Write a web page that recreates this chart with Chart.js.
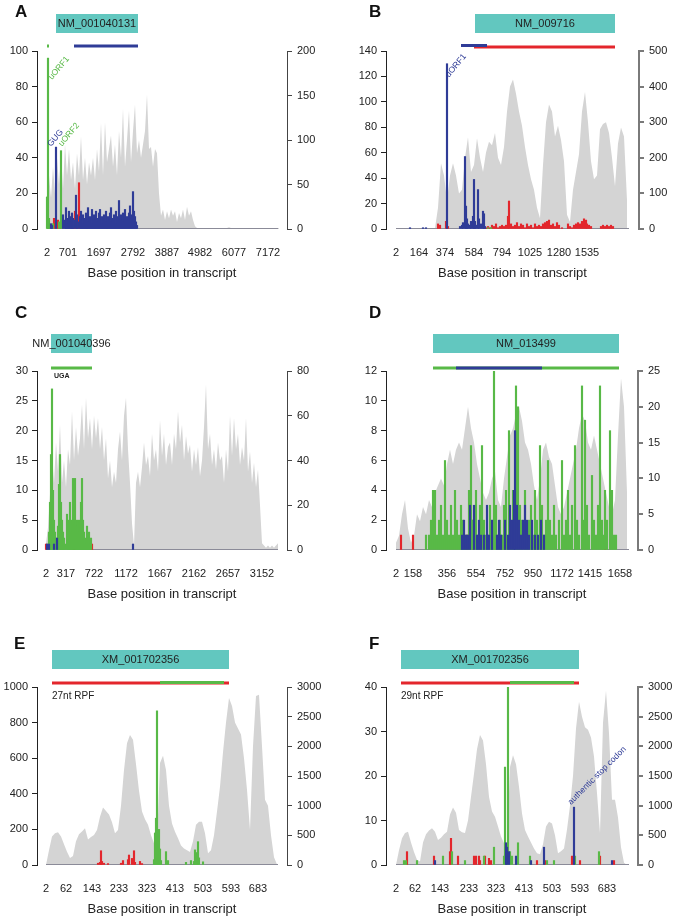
<!DOCTYPE html>
<html>
<head>
<meta charset="utf-8">
<script src="https://cdn.jsdelivr.net/npm/chart.js@4.4.0/dist/chart.umd.min.js"></script>
<style>
  body { margin: 0; background: #fff; width: 675px; height: 918px; position: relative; overflow: hidden; }
  .p { position: absolute; height: 318px; }
</style>
</head>
<body>
<div class="p" style="left:0;top:0;width:337px"><canvas id="cA"></canvas></div>
<div class="p" style="left:337px;top:0;width:338px"><canvas id="cB"></canvas></div>
<div class="p" style="left:0;top:300px;width:337px"><canvas id="cC"></canvas></div>
<div class="p" style="left:337px;top:300px;width:338px"><canvas id="cD"></canvas></div>
<div class="p" style="left:0;top:600px;width:337px"><canvas id="cE"></canvas></div>
<div class="p" style="left:337px;top:600px;width:338px"><canvas id="cF"></canvas></div>
<script>
// x is the bar index along each transcript; tick arrays map index -> base position label

// ---- A ----
const tickAtA = [0, 21, 52, 86, 120, 153, 187, 221];
const tickLabA = ['2', '701', '1697', '2792', '3887', '4982', '6077', '7172'];
const covA = [10,60,35,70,40,80,50,85,45,95, 60,90,55,75,45,85,60,104,55,80,
  50,75,60,80,55,90,65,119,60,120, 75,90,105,70,95,60,110,80,135,70,
  100,133,75,110,140,85,100,80,95,110, 151,90,92,70,90,85,40,15,22,10,
  20,12,22,15,20,8,18,12,22,10, 25,15,20,10,3,1,
  1,1,1,0,1,1,1,1,0,1, 1,1,1,1,1,2,1,1,1,1, 1,1,0,1,1,1,1,1,1,1, 1,1,1,1,1,1,1,1,1,1, 1];
const greenA = [[0,18],[1,96],[2,6],[6,3],[12,4],[14,44]];
const redA = [[7,6],[11,5],[13,3],[25,8],[26,4],[28,10],[32,26],[40,3],[60,2]];
const blueA = [[4,3],[5,2],[9,46],[16,8],[18,5],[19,12],[20,6],[21,3],[22,10],[23,7],[24,4],[25,9],[26,6],[27,5],[29,19],[30,8],[31,4],
  [33,7],[34,10],[35,5],[36,8],[37,3],[38,6],[39,9],[40,5],[41,12],[42,4],[43,7],[44,6],[45,11],[46,3],[47,8],[48,5],[49,10],
  [50,6],[51,4],[52,9],[53,11],[54,5],[55,7],[56,3],[57,8],[58,6],[59,10],[60,4],[61,7],[62,5],[63,9],[64,12],[65,4],[66,6],
  [67,8],[68,5],[69,10],[70,3],[71,7],[72,16],[73,6],[74,8],[75,5],[76,9],[77,4],[78,11],[79,6],[80,7],[81,5],[82,9],[83,13],
  [84,8],[85,6],[86,21],[87,10],[88,7],[89,4],[90,2]];

// ---- B ----
const tickAtB = [0, 23, 49, 78, 106, 134, 163, 191];
const tickLabB = ['2', '164', '374', '584', '794', '1025', '1280', '1535'];
const covB = [0,0,0,1,0,1,0,1,2,1,0,0,1,3,
  60,185,150,80,150,185,150,100,110,200,258,160,180,255,200,160,215,245,235,270,
  200,180,230,330,400,420,380,330,290,230,180,140,110,60,30,180,300,350,330,260,
  290,250,190,40,20,110,160,210,330,385,300,190,140,150,280,295,300,270,200,120,
  240,285,260,80];
const blueB = [[14,1],[27,1],[30,1],[51,130],[64,2],[66,3],[67,5],[69,57],[70,18],[71,8],[72,4],[74,3],[75,6],[77,10],
  [78,39],[79,6],[80,3],[82,31],[83,8],[85,4],[87,14],[88,12],[89,2]];
const redB = [[42,4],[44,3],[50,6],[52,2],[90,1],[92,2],[94,1],[96,3],[98,2],[100,4],[102,1],[104,2],[106,3],[108,2],[110,3],
  [112,10],[113,22],[115,4],[117,2],[119,3],[121,5],[123,2],[125,4],[127,3],[129,1],[131,4],[133,2],[135,3],[137,1],[139,4],
  [141,2],[143,3],[145,2],[147,4],[149,5],[151,6],[153,7],[155,3],[157,4],[159,2],[161,5],[163,3],[166,1],[172,4],[174,2],
  [176,1],[178,3],[180,4],[182,5],[184,4],[186,6],[188,8],[190,7],[191,4],[193,3],[195,2],[205,2],[207,3],[209,2],[211,3],
  [213,2],[215,3],[217,2]];
const greenB = [[92,1],[95,1]];

// ---- C ----
const tickAtC = [0, 20, 48, 80, 114, 148, 182, 216];
const tickLabC = ['2', '317', '722', '1172', '1667', '2162', '2657', '3152'];
const covC = [3,10,25,43,30,48,35,56,30,40, 28,45,38,62,40,55,42,50,65,45,
  68,50,59,45,60,50,59,45,55,40, 50,32,40,28,35,30,45,53,40,60,
  68,45,30,12,2,30,35,28,37,48, 38,42,33,52,40,45,35,58,42,52,
  38,46,48,38,52,45,62,48,56,40, 51,43,47,35,45,38,46,33,40,55,
  74,45,52,38,45,36,48,40,42,30, 45,35,60,42,59,45,52,38,46,40,
  59,35,44,30,39,28,36,20,3,2, 1,2,1,2,1,2,3];
const greenC = [[2,1],[3,3],[4,8],[5,16],[6,27],[7,10],[8,5],[9,3],[10,2],[12,4],[13,11],[14,16],[15,8],[16,5],[17,3],[18,2],
  [19,1],[21,6],[22,3],[23,5],[24,8],[25,5],[26,3],[27,12],[28,5],[29,12],[30,5],[31,4],[32,5],[33,3],[34,5],[35,8],[36,12],
  [37,5],[38,3],[39,2],[40,1],[41,4],[42,2],[43,3],[44,1],[45,2]];
const blueC = [[1,1],[3,1],[8,1],[11,2],[87,1]];
const redC = [[0,1],[28,1],[46,1]];

// ---- D ----
const tickAtD = [0, 17, 51, 80, 109, 137, 166, 194, 224];
const tickLabD = ['2', '158', '356', '554', '752', '950', '1172', '1415', '1658'];
const covD = [1,2,5,7,3,1,2,5,4,6, 5,7,6,8,9,10,9,12,14,12, 14,15,14,17,20,17,15,12,10,8,
  7,8,10,11,7,6,10,13,16,17, 19,20,18,15,14,12,9,7,10,14, 15,13,12,9,6,5,6,8,10,12,
  14,17,19,18,15,14,16,14,12,10, 8,6,5,7,16,24,20,8];
const greenD = [[30,1],[33,1],[35,2],[37,4],[39,4],[41,1],[43,2],[45,3],[47,1],[49,6],[51,2],[53,1],[55,3],[57,1],[59,4],
  [61,2],[63,1],[65,3],[67,2],[69,1],[71,1],[73,4],[75,7],[77,2],[80,4],[82,1],[84,3],[86,7],[88,2],[90,1],[92,1],[94,3],
  [96,2],[98,12],[100,3],[102,1],[104,2],[106,1],[108,3],[110,4],[113,8],[115,2],[117,4],[120,11],[122,9.6],[124,3],[126,2],
  [129,4],[131,1],[133,2],[135,3],[137,1],[139,4],[141,2],[144,7],[146,3],[148,1],[150,2],[152,6],[154,2],[156,1],[158,3],
  [160,1],[163,2],[166,6],[168,1],[170,2],[172,4],[174,1],[176,3],[179,7],[181,2],[183,1],[186,11],[188,2],[189,8.7],[191,3],
  [193,1],[196,5],[198,2],[200,1],[202,3],[204,11],[206,2],[207,1],[209,4],[211,2],[214,8],[216,4],[218,1],[220,1]];
const blueD = [[66,1],[68,2],[70,1],[72,1],[74,3],[78,3],[81,1],[83,2],[85,1],[88,1],[91,3],[93,1],[96,2],[101,1],[103,2],
  [105,1],[109,2],[112,1],[114,3],[116,2],[118,4],[119,8],[121,3],[123,2],[125,1],[127,2],[129,3],[131,2],[133,1],[136,2],
  [139,1],[142,1],[145,2],[148,1]];
const redD = [[5,1],[17,1],[71,1],[77,2],[209,1]];

// ---- E / F (same transcript, two footprint lengths) ----
const tickLabEF = ['2', '62', '143', '233', '323', '413', '503', '593', '683'];
const tickAtE = [0, 20, 46, 73, 101, 129, 157, 185, 212];
const tickAtF = [0, 19, 44, 73, 100, 128, 156, 184, 211];
const covE = [0,250,480,535,550,480,350,225,120,150, 400,520,563,620,430,470,507,590,815,970,
  910,850,720,535,590,1000,1600,2050,2190,2110, 1700,1250,900,770,680,500,365,400,1720,1840,
  1600,1000,700,560,450,330,280,250,220,400, 680,730,730,535,200,250,500,900,1320,1900,
  2400,2815,2680,2400,2300,2200,1800,1270,590,2000, 2850,2870,2000,1100,1000,500,130,10];
const greenE = [[108,30],[109,180],[110,263],[111,866],[112,160],[113,200],[114,90],[115,25],[120,75],[122,25],
  [140,15],[145,25],[148,20],[149,85],[150,50],[151,70],[152,131],[153,40],[157,18]];
const redE = [[52,10],[54,15],[55,80],[56,20],[58,10],[62,8],[75,10],[77,25],[82,30],[83,56],[86,37],[88,80],[89,15],[94,20],[96,8]];
const covF = [0,250,450,540,560,380,220,90,60,380, 520,580,620,560,420,460,520,560,850,970,
  880,590,550,540,750,1150,1540,1950,2190,2100, 1700,1150,900,815,650,480,365,320,1650,1850,
  1700,1320,870,590,480,380,280,200,180,350, 650,730,700,500,200,230,280,600,1000,1500,
  2300,2750,2500,2320,2280,2150,1830,1210,535,2400, 2935,2220,1100,1100,800,300,40,0];
const greenF = [[8,1],[10,1],[21,1],[47,2],[56,3],[69,1],[88,2],[98,4],[108,2],[109,22],[112,40],[114,3],[116,2],[122,5],
  [134,2],[151,1],[158,1],[179,2],[203,3]];
const blueF = [[39,1],[110,5],[111,4],[113,3],[120,2],[135,1],[148,4],[178,13],[216,1]];
const redF = [[11,3],[38,2],[54,3],[55,6],[62,2],[78,2],[80,2],[83,2],[84,1],[89,2],[93,1.5],[95,1],[141,1],[149,1],[176,2],
  [184,1],[204,2],[218,1]];

const GRAY = '#d4d4d4', RED = '#e3262c', GREEN = '#58b947', BLUE = '#2f3c97', CYAN = '#62c7bf';
const FONT = "'Liberation Sans', Arial, sans-serif";
Chart.defaults.font.family = FONT;
Chart.defaults.color = '#222';

const pairs = list => list.map(p => ({ x: p[0], y: p[1] }));
const stepped = (vals, step) => vals.map((v, i) => ({ x: i * step, y: v }));

// letters, transcript boxes, ORF tracks and the small text notes
const decor = {
  id: 'decor',
  afterDraw(chart, args, o) {
    const { ctx, chartArea: a, scales: { x, y } } = chart;
    const px = v => x.getPixelForValue(v);
    ctx.save();
    ctx.font = 'bold 17px ' + FONT;
    ctx.fillStyle = '#111';
    ctx.textBaseline = 'middle';
    ctx.fillText(o.letter, o.letterAt[0], o.letterAt[1]);

    const b0 = px(o.box[0]), b1 = px(o.box[1]);
    ctx.fillStyle = CYAN;
    ctx.fillRect(b0, a.top - 37, b1 - b0, 19);
    ctx.fillStyle = '#222';
    ctx.font = '11px ' + FONT;
    ctx.textAlign = 'center';
    ctx.fillText(o.name, (b0 + b1) / 2, a.top - 27);

    o.tracks.forEach(t => {
      ctx.strokeStyle = t.c;
      ctx.lineWidth = 3;
      ctx.beginPath();
      ctx.moveTo(px(t.r[0]), a.top - t.dy);
      ctx.lineTo(px(t.r[1]), a.top - t.dy);
      ctx.stroke();
    });

    ctx.textAlign = 'left';
    (o.notes || []).forEach(n => {
      ctx.font = n.font + ' ' + FONT;
      ctx.fillStyle = '#222';
      ctx.fillText(n.text, px(n.at), a.top + n.dy);
    });

    ctx.textBaseline = 'alphabetic';
    (o.labels || []).forEach(l => {
      ctx.save();
      ctx.translate(px(l.at[0]) + l.dx, y.getPixelForValue(l.at[1]) + l.dy);
      ctx.rotate(-l.rot * Math.PI / 180);
      ctx.font = '8.5px ' + FONT;
      ctx.fillStyle = l.c;
      ctx.fillText(l.text, 0, 0);
      ctx.restore();
    });
    ctx.restore();
  }
};

const panels = [
  { id: 'cA', cov: covA, step: 2, red: redA, green: greenA, blue: blueA, n: 231, xMin: -10, xMax: 240,
    tickAt: tickAtA, tickLab: tickLabA, yMax: 100, yStep: 20, y2Max: 200, y2Step: 50,
    top: 51, plotH: 178, left: 37, right: 50, rc: '#444', rw: 1,
    deco: { letter: 'A', letterAt: [15, 12], name: 'NM_001040131', box: [9, 91],
      tracks: [{ r: [0, 2], c: GREEN, dy: 5 }, { r: [27, 91], c: BLUE, dy: 5 }],
      labels: [{ text: 'uORF1', at: [1, 96], dx: 4, dy: 22, rot: 50, c: GREEN },
               { text: 'GUG', at: [9, 46], dx: -5, dy: 0, rot: 50, c: BLUE },
               { text: 'uORF2', at: [14, 44], dx: 1, dy: -4, rot: 50, c: GREEN }] } },
  { id: 'cB', cov: covB, step: 3, red: redB, green: greenB, blue: blueB, n: 233, xMin: -10, xMax: 243,
    tickAt: tickAtB, tickLab: tickLabB, yMax: 140, yStep: 20, y2Max: 500, y2Step: 100,
    top: 51, plotH: 178, left: 49, right: 36, rc: '#7a7a7a', rw: 2,
    deco: { letter: 'B', letterAt: [32, 12], name: 'NM_009716', box: [79, 219],
      tracks: [{ r: [78, 219], c: RED, dy: 4 }, { r: [65, 91], c: BLUE, dy: 5.5 }],
      labels: [{ text: 'uORF1', at: [51, 130], dx: 2, dy: 14, rot: 50, c: BLUE }] } },
  { id: 'cC', cov: covC, step: 2, red: redC, green: greenC, blue: blueC, n: 232, xMin: -9, xMax: 241,
    tickAt: tickAtC, tickLab: tickLabC, yMax: 30, yStep: 5, y2Max: 80, y2Step: 20,
    top: 71, plotH: 179, left: 37, right: 50, rc: '#444', rw: 1,
    deco: { letter: 'C', letterAt: [15, 13], name: 'NM_001040396', box: [5, 46],
      tracks: [{ r: [5, 46], c: GREEN, dy: 3 }],
      notes: [{ text: 'UGA', at: 8, dy: 5, font: 'bold 7px' }] } },
  { id: 'cD', cov: covD, step: 3, red: redD, green: greenD, blue: blueD, n: 233, xMin: -10, xMax: 242,
    tickAt: tickAtD, tickLab: tickLabD, yMax: 12, yStep: 2, y2Max: 25, y2Step: 5,
    top: 71, plotH: 179, left: 49, right: 37, rc: '#7a7a7a', rw: 2,
    deco: { letter: 'D', letterAt: [32, 13], name: 'NM_013499', box: [37, 223],
      tracks: [{ r: [37, 223], c: GREEN, dy: 3 }, { r: [60, 146], c: BLUE, dy: 3 }] } },
  { id: 'cE', cov: covE, step: 3, red: redE, green: greenE, blue: null, n: 232, xMin: -9, xMax: 241,
    tickAt: tickAtE, tickLab: tickLabEF, yMax: 1000, yStep: 200, y2Max: 3000, y2Step: 500,
    top: 87, plotH: 178, left: 37, right: 50, rc: '#444', rw: 1,
    deco: { letter: 'E', letterAt: [14, 44], name: 'XM_001702356', box: [6, 183],
      tracks: [{ r: [6, 183], c: RED, dy: 4 }, { r: [114, 178], c: GREEN, dy: 4.5 }],
      notes: [{ text: '27nt RPF', at: 6, dy: 9, font: '10px' }] } },
  { id: 'cF', cov: covF, step: 3, red: redF, green: greenF, blue: blueF, n: 233, xMin: -10, xMax: 242,
    tickAt: tickAtF, tickLab: tickLabEF, yMax: 40, yStep: 10, y2Max: 3000, y2Step: 500,
    top: 87, plotH: 178, left: 49, right: 37, rc: '#7a7a7a', rw: 2,
    deco: { letter: 'F', letterAt: [32, 44], name: 'XM_001702356', box: [5, 183],
      tracks: [{ r: [5, 183], c: RED, dy: 4 }, { r: [114, 178], c: GREEN, dy: 4.5 }],
      notes: [{ text: '29nt RPF', at: 5, dy: 9, font: '10px' }],
      labels: [{ text: 'authentic stop codon', at: [178, 13], dx: -3, dy: -2, rot: 45, c: BLUE }] } }
];

panels.forEach(p => {
  const datasets = [
    { type: 'line', data: stepped(p.cov, p.step), yAxisID: 'y2', fill: 'origin', backgroundColor: GRAY,
      borderColor: 'rgba(0,0,0,0)', borderWidth: 0, pointRadius: 0, order: 10 },
    { type: 'line', data: [{ x: 0, y: 0 }, { x: p.n, y: 0 }], yAxisID: 'y', borderColor: '#8b8b98',
      borderWidth: 2, pointRadius: 0, fill: false, order: 9 }
  ];
  [[p.red, RED], [p.green, GREEN], [p.blue, BLUE]].forEach(([d, c], k) => {
    if (d) datasets.push({ type: 'bar', data: pairs(d), yAxisID: 'y', backgroundColor: c,
      barThickness: 1.5, grouped: false, order: 3 - k });
  });

  new Chart(document.getElementById(p.id), {
    type: 'bar',
    data: { datasets },
    options: {
      responsive: true,
      maintainAspectRatio: false,
      animation: false,
      layout: { padding: { top: p.top, left: 0, right: 0, bottom: 318 - p.top - p.plotH - 52 } },
      plugins: { legend: { display: false }, tooltip: { enabled: false }, decor: p.deco },
      scales: {
        x: {
          type: 'linear', min: p.xMin, max: p.xMax, offset: false,
          grid: { display: false, drawTicks: false, offset: false },
          border: { display: false },
          afterBuildTicks: s => { s.ticks = p.tickAt.map(v => ({ value: v })); },
          ticks: { autoSkip: false, maxRotation: 0, padding: 17, font: { size: 11 }, color: '#222',
            callback: (v, i) => p.tickLab[i] },
          title: { display: true, text: 'Base position in transcript', font: { size: 13 }, color: '#222', padding: 0 },
          afterFit: s => { s.height = 52; }
        },
        y: {
          position: 'left', min: 0, max: p.yMax,
          ticks: { stepSize: p.yStep, padding: 4, font: { size: 11 }, color: '#222', callback: v => String(v) },
          grid: { drawOnChartArea: false, tickLength: 5, color: '#222' },
          border: { color: '#222' },
          afterFit: s => { s.width = p.left; }
        },
        y2: {
          position: 'right', min: 0, max: p.y2Max,
          ticks: { stepSize: p.y2Step, padding: 5, font: { size: 11 }, color: '#222', callback: v => String(v) },
          grid: { drawOnChartArea: false, tickLength: 5, color: p.rc, lineWidth: p.rw },
          border: { color: p.rc, width: p.rw },
          afterFit: s => { s.width = p.right; }
        }
      }
    },
    plugins: [decor]
  });
});
</script>
</body>
</html>
